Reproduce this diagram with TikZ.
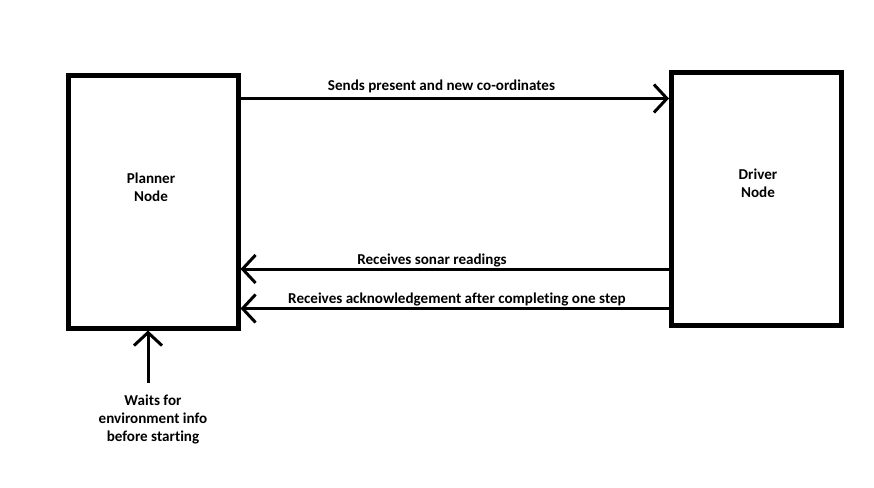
\documentclass[tikz,border=0pt]{standalone}
\usepackage{fontspec}
\setmainfont{Carlito}[Ligatures=NoCommon]
\usetikzlibrary{arrows.meta}

\begin{document}
\begin{tikzpicture}[x=1pt,y=-1pt,
    box/.style={draw, rectangle, line width=5pt, inner sep=0pt,
      minimum width=169.5pt, minimum height=252.5pt},
    msg/.style={line width=3pt, -{Straight Barb[length=13pt,width=28pt]}},
    lbl/.style={font=\fontsize{15.1}{18}\selectfont\bfseries, align=center, inner sep=0pt}]
  \useasboundingbox (0,0) rectangle (874,487);
  %boxes
  \node[box] (planner) at (153.25,201.75) {};
  \node[box] (driver) at (756.25,198.75) {};
  \node[lbl] (plannertxt) at (151,187) {Planner\\Node};
  \node[lbl] (drivertxt) at (758,183) {Driver\\Node};
  %messages
  \coordinate (sendy) at (0,98.5);
  \coordinate (sonary) at (0,269);
  \coordinate (acky) at (0,308.5);
  \coordinate (waitstart) at (148,383);
  \draw[msg] (planner.east |- sendy) -- (driver.west |- sendy);
  \draw[msg] (driver.west |- sonary) -- (planner.east |- sonary);
  \draw[msg] (driver.west |- acky) -- (planner.east |- acky);
  \draw[msg] (waitstart) -- (waitstart |- planner.south);
  \node[lbl] (sendtxt) at (441.5,86) {Sends present and new co-ordinates};
  \node[lbl] (sonartxt) at (432,260.5) {Receives sonar readings};
  \node[lbl] (acktxt) at (457,299.5) {Receives acknowledgement after completing one step};
  \node[lbl] (waittxt) at (153,419.5) {Waits for\\environment info\\before starting};
\end{tikzpicture}
\end{document}
